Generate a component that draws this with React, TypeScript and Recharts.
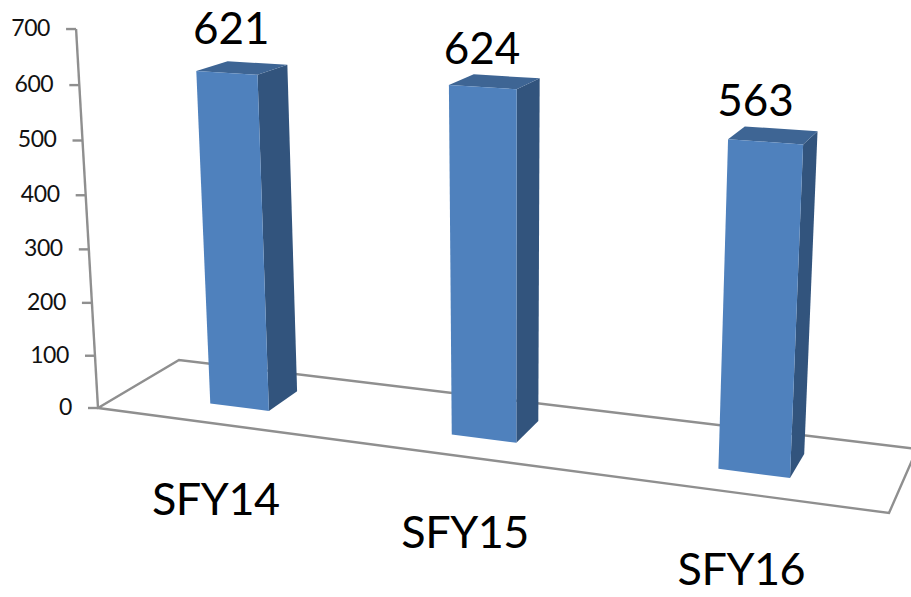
import React from "react";
import { BarChart, Bar, XAxis, YAxis, LabelList } from "recharts";

// Program counts per state fiscal year.
const years = ["SFY14", "SFY15", "SFY16"];
const counts = [621, 624, 563];
const valueTicks = [0, 100, 200, 300, 400, 500, 600, 700];
const rows = years.map((year, i) => ({ year, count: counts[i] }));

const WIDTH = 911;
const HEIGHT = 597;
const MARGIN = { top: 20, right: 20, bottom: 20, left: 20 };
const Y_AXIS_W = 1;
const X_AXIS_H = 1;
const PLOT_LEFT = MARGIN.left + Y_AXIS_W;
const PLOT_W = WIDTH - MARGIN.left - MARGIN.right - Y_AXIS_W;
const PLOT_H = HEIGHT - MARGIN.top - MARGIN.bottom - X_AXIS_H;
const VALUE_MAX = 700;

// Screen corners of the chart floor: front-left, front-right, back-right, back-left.
const FLOOR = [
  [98, 408],
  [889, 513],
  [917, 449],
  [179, 360],
];
const BAR_DEPTH = [0.31, 0.7];
const BAR_SHIFT = 0.002;

const LABEL_NUDGE = [
  [6, -29],
  [1, -23],
  [-8, -26],
];

const GRID = "#8f8f8f";
const FRONT = "#4f81bd";
const SIDE = "#32547d";
const TOP = "#3e6594";
const FONT = "Lato, 'Noto Sans', sans-serif";

// Homography taking the unit square onto the floor quad.
const floorMap = (() => {
  const [[x0, y0], [x1, y1], [x2, y2], [x3, y3]] = FLOOR;
  const dx1 = x1 - x2;
  const dx2 = x3 - x2;
  const sx = x0 - x1 + x2 - x3;
  const dy1 = y1 - y2;
  const dy2 = y3 - y2;
  const sy = y0 - y1 + y2 - y3;
  const det = dx1 * dy2 - dx2 * dy1;
  const g = (sx * dy2 - dx2 * sy) / det;
  const h = (dx1 * sy - sx * dy1) / det;
  return (u: number, d: number) => {
    const w = g * u + h * d + 1;
    return [
      ((x1 - x0 + g * x1) * u + (x3 - x0 + h * x3) * d + x0) / w,
      ((y1 - y0 + g * y1) * u + (y3 - y0 + h * y3) * d + y0) / w,
    ];
  };
})();

// Floor position plus a rise along the converging verticals; v is the value as a share of the axis.
function project(u: number, d: number, v: number) {
  const [fx, fy] = floorMap(u, d);
  const fullRise = 370 + 0.56 * (fy - 392);
  const rise = (fullRise * (v * 0.96)) / (1 - 0.04 * v);
  return [fx + ((fx - 510) / 7118) * rise, fy - rise];
}

const toU = (x: number) => (x - PLOT_LEFT) / PLOT_W;
const poly = (pts: number[][]) => pts.map((p) => `${p[0]},${p[1]}`).join(" ");

function Bar3D(props: any) {
  const { x, width, height } = props;
  const u0 = toU(x) + BAR_SHIFT;
  const u1 = toU(x + width) + BAR_SHIFT;
  const v = height / PLOT_H;
  const [d0, d1] = BAR_DEPTH;
  const fbl = project(u0, d0, 0);
  const fbr = project(u1, d0, 0);
  const ftl = project(u0, d0, v);
  const ftr = project(u1, d0, v);
  const bbr = project(u1, d1, 0);
  const btr = project(u1, d1, v);
  const btl = project(u0, d1, v);
  return (
    <g>
      <polygon points={poly([fbr, bbr, btr, ftr])} fill={SIDE} />
      <polygon points={poly([ftl, ftr, btr, btl])} fill={TOP} />
      <polygon points={poly([fbl, fbr, ftr, ftl])} fill={FRONT} />
    </g>
  );
}

function ValueTick(props: any) {
  const { y, payload } = props;
  const v = (MARGIN.top + PLOT_H - y) / PLOT_H;
  const [ax, ay] = project(0, 0, v);
  return (
    <g>
      <line x1={ax - 10} y1={ay} x2={ax} y2={ay} stroke={GRID} strokeWidth={2.4} />
      <text x={ax - 26} y={ay + 7} textAnchor="end" fontFamily={FONT} fontSize={23} letterSpacing={-0.4} fill="#111">
        {payload.value}
      </text>
    </g>
  );
}

function YearTick(props: any) {
  const { x, payload } = props;
  const [fx, fy] = floorMap(toU(x), 0);
  return (
    <text x={fx + 2} y={fy + 92} textAnchor="middle" fontFamily={FONT} fontSize={45} letterSpacing={-0.5} fill="#000">
      {payload.value}
    </text>
  );
}

function CountLabel(props: any) {
  const { x, width, height, value, index } = props;
  const [px, py] = project(toU(x + width / 2), BAR_DEPTH[0], height / PLOT_H);
  const [nx, ny] = LABEL_NUDGE[index];
  return (
    <text x={px + nx} y={py + ny} textAnchor="middle" fontFamily={FONT} fontSize={44} fill="#000">
      {value}
    </text>
  );
}

// Floor outline and the slanted value axis, drawn behind the bars.
function Frame() {
  const [a, b, c, d] = FLOOR;
  return (
    <g fill="none" stroke={GRID} strokeWidth={2.4}>
      <polygon points={poly([a, b, c, d])} />
      <polyline points={poly([project(0, 0, 1), project(0, 0, 0)])} />
    </g>
  );
}

export default function App() {
  return (
    <div style={{ position: "absolute", left: 0, top: 0 }}>
      <BarChart width={WIDTH} height={HEIGHT} data={rows} margin={MARGIN} barCategoryGap="37.4%">
        <Frame />
        <XAxis dataKey="year" height={X_AXIS_H} axisLine={false} tickLine={false} interval={0} tick={<YearTick />} />
        <YAxis
          width={Y_AXIS_W}
          domain={[0, VALUE_MAX]}
          ticks={valueTicks}
          interval={0}
          axisLine={false}
          tickLine={false}
          tick={<ValueTick />}
        />
        <Bar dataKey="count" isAnimationActive={false} shape={<Bar3D />}>
          <LabelList dataKey="count" content={<CountLabel />} />
        </Bar>
      </BarChart>
    </div>
  );
}
